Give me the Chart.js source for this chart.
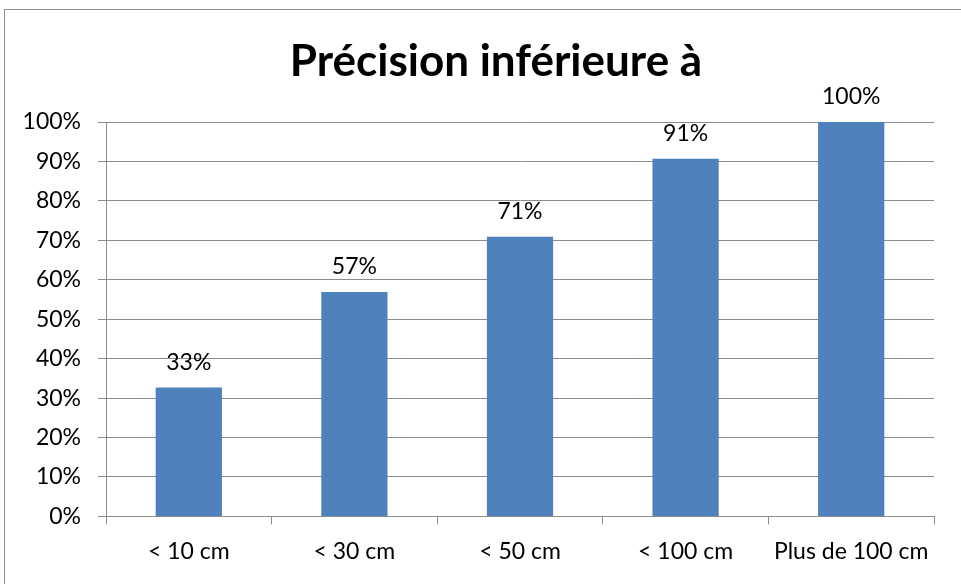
<!DOCTYPE html>
<html>
<head>
<meta charset="utf-8">
<script src="https://cdn.jsdelivr.net/npm/chart.js@4/dist/chart.umd.min.js"></script>
<style>
  body { margin: 0; background: #fff; overflow: hidden; }
  #frame { position: absolute; left: 4px; top: 9px; width: 1000px; height: 1000px; border: 1px solid #8c8c8c; }
  #wrap { position: absolute; left: 0; top: 0; width: 961px; height: 584px; }
</style>
</head>
<body>
<div id="frame"></div>
<div id="wrap"><canvas id="PrecisionChart"></canvas></div>
<script>
var chartTitle = "Précision inférieure à";
var categories = ["< 10 cm", "< 30 cm", "< 50 cm", "< 100 cm", "Plus de 100 cm"];
var precisionValues = [32.7, 56.9, 70.9, 90.7, 100];
var yTicks = [0, 10, 20, 30, 40, 50, 60, 70, 80, 90, 100];

var fontName = "Lato";

// title and value labels, drawn by hand
var barLabels = {
    id: "barLabels",
    afterDatasetsDraw: function (chart) {
        var ctx = chart.ctx;
        var meta = chart.getDatasetMeta(0);
        ctx.save();
        ctx.fillStyle = "#000";
        ctx.textAlign = "center";
        ctx.textBaseline = "middle";
        ctx.font = "bold 44px " + fontName;
        ctx.fillText(chartTitle, 496, 62);
        ctx.font = "23px " + fontName;
        meta.data.forEach(function (bar, i) {
            ctx.fillText(Math.round(precisionValues[i]) + "%", bar.x, bar.y - 25);
        });
        ctx.restore();
    }
};

new Chart("PrecisionChart", {
    type: "bar",
    data: {
        labels: categories,
        datasets: [{
            data: precisionValues,
            backgroundColor: "#4f81bd",
            borderWidth: 0,
            categoryPercentage: 1,
            barPercentage: 0.4
        }]
    },
    options: {
        responsive: true,
        maintainAspectRatio: false,
        animation: false,
        layout: { padding: { left: 10, right: 27, top: 122, bottom: 6 } },
        plugins: {
            legend: { display: false },
            tooltip: { enabled: false },
            title: { display: false }
        },
        scales: {
            x: {
                grid: {
                    offset: true,
                    drawOnChartArea: false,
                    drawTicks: true,
                    tickLength: 8,
                    color: "#8c8c8c"
                },
                border: { color: "#8c8c8c" },
                ticks: {
                    color: "#000",
                    font: { family: fontName, size: 23 },
                    padding: 13,
                    maxRotation: 0
                }
            },
            y: {
                min: 0,
                max: 100,
                afterFit: function (scale) { scale.width = 96; },
                afterBuildTicks: function (scale) {
                    scale.ticks = yTicks.map(function (v) { return { value: v }; });
                },
                grid: {
                    color: "#8c8c8c",
                    tickLength: 8
                },
                border: { color: "#8c8c8c" },
                ticks: {
                    color: "#000",
                    font: { family: fontName, size: 23 },
                    padding: 17,
                    callback: function (v) { return v + "%"; }
                }
            }
        }
    },
    plugins: [barLabels]
});
</script>
</body>
</html>
